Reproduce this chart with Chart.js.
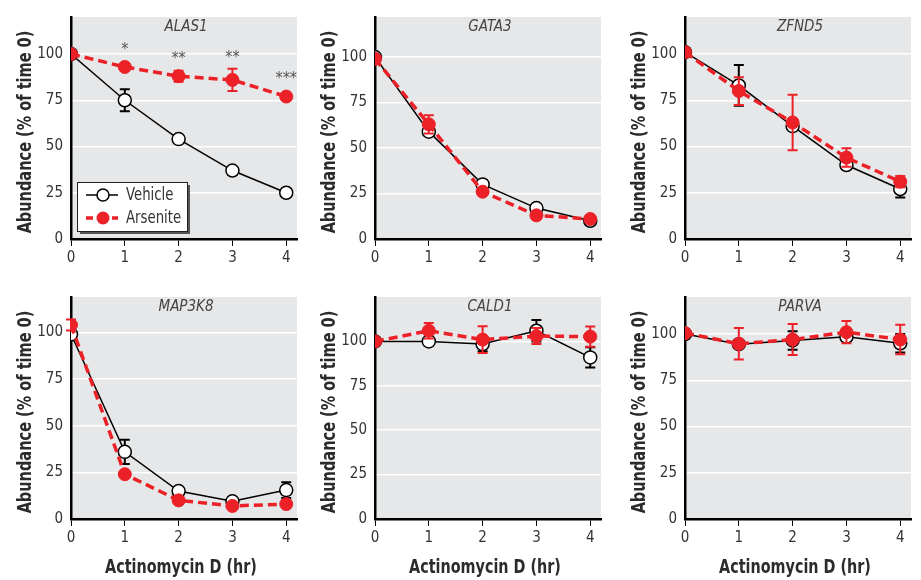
<!DOCTYPE html>
<html>
<head>
<meta charset="utf-8">
<script src="https://cdn.jsdelivr.net/npm/chart.js@4.4.1/dist/chart.umd.min.js"></script>
<style>
  html, body { margin: 0; padding: 0; background: #fff; }
  #wrap { position: relative; width: 921px; height: 580px; overflow: hidden; }
  .panel { position: absolute; }
</style>
</head>
<body>
<div id="wrap"></div>
<script>
// time points (hr)
var hours = [0, 1, 2, 3, 4];
var yTicks = [0, 25, 50, 75, 100];

// ALAS1
var alas1Veh = [100, 75, 54, 37, 25];
var alas1VehErr = [0, 6, 0, 0, 0];
var alas1Ars = [100, 93, 88, 86, 77];
var alas1ArsErr = [0, 0, 3, 6, 0];
var alas1Stars = ['', '*', '**', '**', '***'];

// GATA3
var gata3Veh = [100, 59, 30, 17, 10];
var gata3VehErr = [0, 2, 0, 0, 0];
var gata3Ars = [99, 63, 26, 13, 11];
var gata3ArsErr = [0, 5, 0, 0, 0];

// ZFND5
var zfnd5Veh = [101, 83, 61, 40, 27];
var zfnd5VehErr = [0, 11, 0, 0, 4.5];
var zfnd5Ars = [101, 80, 63, 44, 31];
var zfnd5ArsErr = [0, 7.5, 15, 5, 3];

// MAP3K8
var map3k8Veh = [99, 36, 15, 9.5, 15.5];
var map3k8VehErr = [0, 6.5, 0, 0, 4.2];
var map3k8Ars = [104, 24, 10, 7, 8];
var map3k8ArsErr = [3, 0, 0, 0, 0];

// CALD1
var cald1Veh = [100, 100, 98.5, 106, 91];
var cald1VehErr = [0, 0, 4, 6, 5.7];
var cald1Ars = [100, 106, 101, 103, 102.7];
var cald1ArsErr = [0, 4.4, 7.5, 4.5, 5.7];

// PARVA
var parvaVeh = [100, 94.5, 96.5, 98.5, 95];
var parvaVehErr = [0, 0, 5, 0, 5];
var parvaArs = [100.5, 94.7, 97, 101, 97];
var parvaArsErr = [0, 8.5, 8.4, 6, 8];

var RED = '#ec2128';
var FONT = '"Liberation Sans Narrow", "DejaVu Sans Condensed", "Liberation Sans", sans-serif';
var yTitle = 'Abundance (% of time 0)';
var xTitle = 'Actinomycin D (hr)';

var panels = [
  { gene: 'ALAS1', veh: alas1Veh, vehErr: alas1VehErr, ars: alas1Ars, arsErr: alas1ArsErr, stars: alas1Stars, legend: true, ymax: 120, col: 0, row: 0 },
  { gene: 'GATA3', veh: gata3Veh, vehErr: gata3VehErr, ars: gata3Ars, arsErr: gata3ArsErr, ymax: 122, col: 1, row: 0 },
  { gene: 'ZFND5', veh: zfnd5Veh, vehErr: zfnd5VehErr, ars: zfnd5Ars, arsErr: zfnd5ArsErr, ymax: 120, col: 2, row: 0 },
  { gene: 'MAP3K8', veh: map3k8Veh, vehErr: map3k8VehErr, ars: map3k8Ars, arsErr: map3k8ArsErr, ymax: 119, col: 0, row: 1 },
  { gene: 'CALD1', veh: cald1Veh, vehErr: cald1VehErr, ars: cald1Ars, arsErr: cald1ArsErr, ymax: 125, col: 1, row: 1 },
  { gene: 'PARVA', veh: parvaVeh, vehErr: parvaVehErr, ars: parvaArs, arsErr: parvaArsErr, ymax: 120, col: 2, row: 1 }
];

var colLeft = [0, 304, 614];
var rowTop = [0, 280];
var rowHeight = [274, 300];

// grey plot background
var bgPlugin = {
  id: 'plotBg',
  beforeDraw: function (chart) {
    var a = chart.chartArea, ctx = chart.ctx;
    ctx.save();
    ctx.fillStyle = '#e6e7e8';
    ctx.fillRect(a.left, a.top, a.right - a.left, a.bottom - a.top);
    ctx.restore();
  }
};

// error bars drawn just before each dataset so markers sit on top
var errPlugin = {
  id: 'errBars',
  beforeDatasetDraw: function (chart, args) {
    var ds = chart.data.datasets[args.index];
    if (!ds.err) return;
    var ctx = chart.ctx, xs = chart.scales.x, ys = chart.scales.y;
    ctx.save();
    ctx.strokeStyle = ds.errColor;
    ctx.lineWidth = 2;
    ds.data.forEach(function (p, i) {
      var e = ds.err[i];
      if (!e) return;
      var x = xs.getPixelForValue(p.x);
      var y1 = ys.getPixelForValue(p.y + e);
      var y2 = ys.getPixelForValue(p.y - e);
      ctx.beginPath();
      ctx.moveTo(x, y1); ctx.lineTo(x, y2);
      ctx.moveTo(x - 5, y1); ctx.lineTo(x + 5, y1);
      ctx.moveTo(x - 5, y2); ctx.lineTo(x + 5, y2);
      ctx.stroke();
    });
    ctx.restore();
  }
};

// condensed text: tall glyphs squeezed horizontally like the original typeface
function narrowText(ctx, text, x, y, rot, sx) {
  ctx.save();
  ctx.translate(x, y);
  if (rot) ctx.rotate(rot);
  ctx.scale(sx, 1);
  ctx.fillText(text, 0, 0);
  ctx.restore();
}

// gene name, axis titles, significance stars, legend
var extrasPlugin = {
  id: 'extras',
  afterDraw: function (chart, args, opts) {
    var ctx = chart.ctx, a = chart.chartArea;
    var xs = chart.scales.x, ys = chart.scales.y;
    ctx.save();
    ctx.textAlign = 'center';
    ctx.textBaseline = 'middle';

    ctx.fillStyle = '#2b2b2b';
    ctx.font = 'bold 19px ' + FONT;
    narrowText(ctx, yTitle, 26, (a.top + a.bottom) / 2 + 4, -Math.PI / 2, 0.85);
    if (opts.xTitle) {
      narrowText(ctx, xTitle, (a.left + a.right) / 2 - 3, chart.height - 12, 0, 0.84);
    }

    ctx.fillStyle = '#444';
    ctx.font = 'italic 15px ' + FONT;
    ctx.fillText(opts.gene, (a.left + a.right) / 2 + 2, a.top + 10);

    if (opts.stars) {
      var ars = chart.data.datasets[1];
      ctx.font = '16px ' + FONT;
      ctx.fillStyle = '#555';
      opts.stars.forEach(function (s, i) {
        if (!s) return;
        var p = ars.data[i];
        var top = Math.min(ys.getPixelForValue(p.y + ars.err[i]), ys.getPixelForValue(p.y) - 6.5);
        ctx.fillText(s, xs.getPixelForValue(p.x), top - 11);
      });
    }

    if (opts.legend) {
      var bx = a.left + 6, by = a.bottom - 57, bw = 110, bh = 49;
      ctx.fillStyle = '#555';
      ctx.fillRect(bx + 3, by + 3, bw, bh);
      ctx.fillStyle = '#fff';
      ctx.fillRect(bx, by, bw, bh);
      ctx.strokeStyle = '#222';
      ctx.lineWidth = 1;
      ctx.strokeRect(bx + 0.5, by + 0.5, bw, bh);

      var r1 = by + 13, r2 = by + 36;
      ctx.strokeStyle = '#000';
      ctx.lineWidth = 1.5;
      ctx.beginPath(); ctx.moveTo(bx + 9, r1); ctx.lineTo(bx + 41, r1); ctx.stroke();
      ctx.beginPath(); ctx.arc(bx + 26, r1, 6, 0, Math.PI * 2);
      ctx.fillStyle = '#fff'; ctx.fill(); ctx.stroke();

      ctx.strokeStyle = RED;
      ctx.lineWidth = 3.5;
      ctx.setLineDash([7, 6]);
      ctx.beginPath(); ctx.moveTo(bx + 9, r2); ctx.lineTo(bx + 41, r2); ctx.stroke();
      ctx.setLineDash([]);
      ctx.beginPath(); ctx.arc(bx + 26, r2, 6.5, 0, Math.PI * 2);
      ctx.fillStyle = RED; ctx.fill();

      ctx.fillStyle = '#333';
      ctx.font = '17px ' + FONT;
      ctx.textAlign = 'left';
      narrowText(ctx, 'Vehicle', bx + 49, r1 + 1, 0, 0.87);
      narrowText(ctx, 'Arsenite', bx + 49, r2 + 1, 0, 0.87);
    }
    ctx.restore();
  }
};

function pts(vals) {
  return hours.map(function (h, i) { return { x: h, y: vals[i] }; });
}

panels.forEach(function (p) {
  var W = 305, H = rowHeight[p.row];
  var cv = document.createElement('canvas');
  cv.className = 'panel';
  cv.style.left = colLeft[p.col] + 'px';
  cv.style.top = rowTop[p.row] + 'px';
  cv.style.width = W + 'px';
  cv.style.height = H + 'px';
  cv.width = W; cv.height = H;
  document.getElementById('wrap').appendChild(cv);

  var bottomRow = p.row === 1;

  new Chart(cv.getContext('2d'), {
    type: 'line',
    data: {
      datasets: [
        {
          label: 'Vehicle',
          data: pts(p.veh),
          err: p.vehErr,
          errColor: '#000',
          borderColor: '#000',
          borderWidth: 1.5,
          pointRadius: 6.5,
          pointBackgroundColor: '#fff',
          pointBorderColor: '#000',
          pointBorderWidth: 1.5,
          order: 2
        },
        {
          label: 'Arsenite',
          data: pts(p.ars),
          err: p.arsErr,
          errColor: RED,
          borderColor: RED,
          borderWidth: 3.5,
          borderDash: [9, 5],
          pointRadius: 6.5,
          pointBackgroundColor: RED,
          pointBorderColor: RED,
          pointBorderWidth: 1,
          order: 1
        }
      ]
    },
    options: {
      animation: false,
      responsive: false,
      devicePixelRatio: 1,
      layout: { padding: { top: 12, right: 4, left: 0, bottom: 0 } },
      plugins: {
        legend: { display: false },
        tooltip: { enabled: false },
        extras: { gene: p.gene, stars: p.stars, legend: p.legend, xTitle: bottomRow }
      },
      scales: {
        x: {
          type: 'linear',
          min: 0,
          max: 4.2,
          afterFit: function (s) { s.height = bottomRow ? 61 : 35; },
          ticks: {
            stepSize: 1,
            includeBounds: false,
            padding: 3,
            color: '#333',
            font: { family: FONT, size: 15 }
          },
          grid: { drawOnChartArea: false, drawTicks: true, tickLength: 7, color: '#000', lineWidth: 1 },
          border: { color: '#000', width: 2.5 }
        },
        y: {
          min: 0,
          max: p.ymax,
          afterFit: function (s) { s.width = 71; },
          afterBuildTicks: function (s) { s.ticks = yTicks.map(function (v) { return { value: v }; }); },
          ticks: {
            padding: 8,
            color: '#333',
            font: { family: FONT, size: 15 }
          },
          grid: { drawTicks: false, color: '#fff', lineWidth: 1.5 },
          border: { color: '#000', width: 2.5 }
        }
      }
    },
    plugins: [bgPlugin, errPlugin, extrasPlugin]
  });
});
</script>
</body>
</html>
